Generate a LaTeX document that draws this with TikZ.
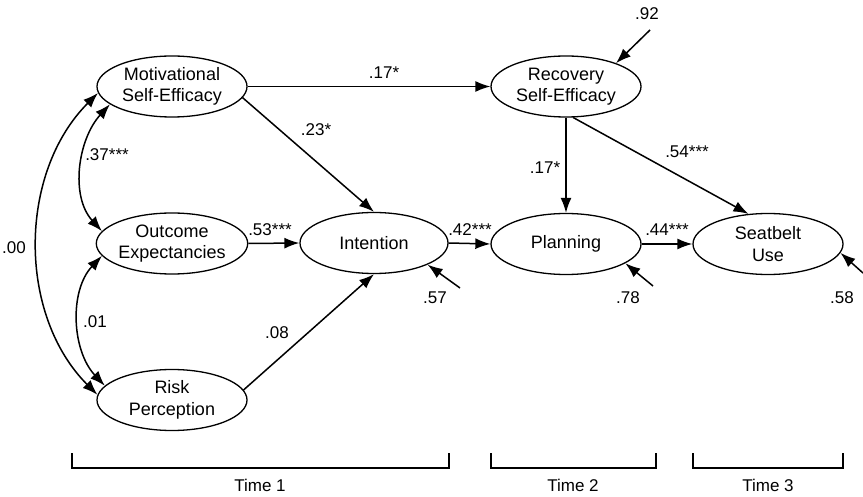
\documentclass[tikz,border=0pt]{standalone}
\usepackage{fontspec}
\setmainfont{Liberation Sans}
\usetikzlibrary{shapes.geometric,arrows.meta}
\begin{document}
\begin{tikzpicture}[x=1pt,y=-1pt,
 var/.style={ellipse,draw,line width=1.3pt,minimum width=150pt,minimum height=61pt,inner sep=0pt,align=center,font=\fontsize{18}{21.5}\selectfont},
 pth/.style={line width=1.5pt,-{Latex[length=15pt,width=11pt]}},
 cov/.style={line width=1.5pt,{Latex[length=15pt,width=11pt]}-{Latex[length=15pt,width=11pt]}},
 lab/.style={font=\fontsize{17}{20}\selectfont,inner sep=0pt},
 brk/.style={line width=1.3pt}]
\useasboundingbox (0,0) rectangle (863,497);
% variables
\node[var] (mse) at (172,86.5) {Motivational\\Self-Efficacy};
\node[var] (oe) at (172,243.5) {Outcome\\Expectancies};
\node[var] (rp) at (172,400) {Risk\\Perception};
\node[var,minimum width=148pt] (int) at (374,243) {Intention};
\node[var] (rse) at (566,86.5) {Recovery\\Self-Efficacy};
\node[var] (plan) at (566,244) {Planning};
\node[var] (sb) at (768,244) {Seatbelt\\Use};
% paths
\draw[pth] (mse.east) -- (rse.west);
\draw[pth] (mse.-9) -- (int.north);
\draw[pth] (oe.east) -- (int.west);
\draw[pth] (rp.8) -- (int.south);
\draw[pth] (int.east) -- (plan.west);
\draw[pth] (plan.east) -- (sb.west);
\draw[pth] (rse.south) -- (plan.north);
\draw[pth] (rse.-77) -- (sb.123);
% residuals
\coordinate (e1) at (650,30);
\coordinate (e2) at (460,288);
\coordinate (e3) at (653,286);
\coordinate (e4) at (863,273);
\draw[pth] (e1) -- (rse.25);
\draw[pth] (e2) -- (int.-22);
\draw[pth] (e3) -- (plan.-18);
\draw[pth] (e4) -- (sb.-7);
% covariances
\draw[cov] (mse.196) .. controls +(-32,35) and +(-32,-35) .. (oe.170);
\draw[cov] (oe.190) .. controls +(-33,35) and +(-33,-35) .. (rp.168);
\draw[cov] (mse.185) .. controls +(-80,80) and +(-80,-80) .. (rp.176);
% labels
\node[lab] (l1) at (384,73) {.17*};
\node[lab] (l2) at (316,130) {.23*};
\node[lab] (l3) at (270,230) {.53***};
\node[lab] (l4) at (277,333) {.08};
\node[lab] (l5) at (470,230) {.42***};
\node[lab] (l6) at (667,230) {.44***};
\node[lab] (l7) at (545,168) {.17*};
\node[lab] (l8) at (687,152) {.54***};
\node[lab] (l9) at (107,155) {.37***};
\node[lab] (l10) at (95,322) {.01};
\node[lab] (l11) at (14,248) {.00};
\node[lab] (r1) at (647,14) {.92};
\node[lab] (r2) at (435,298) {.57};
\node[lab] (r3) at (628,298) {.78};
\node[lab] (r4) at (842,298) {.58};
% time brackets
\draw[brk] (72,453) -- (72,468) -- (449,468) -- (449,453);
\draw[brk] (491,453) -- (491,468) -- (656,468) -- (656,453);
\draw[brk] (693,453) -- (693,468) -- (843,468) -- (843,453);
\node[lab] (t1) at (260,485) {Time 1};
\node[lab] (t2) at (573,485) {Time 2};
\node[lab] (t3) at (768,485) {Time 3};
\end{tikzpicture}
\end{document}
